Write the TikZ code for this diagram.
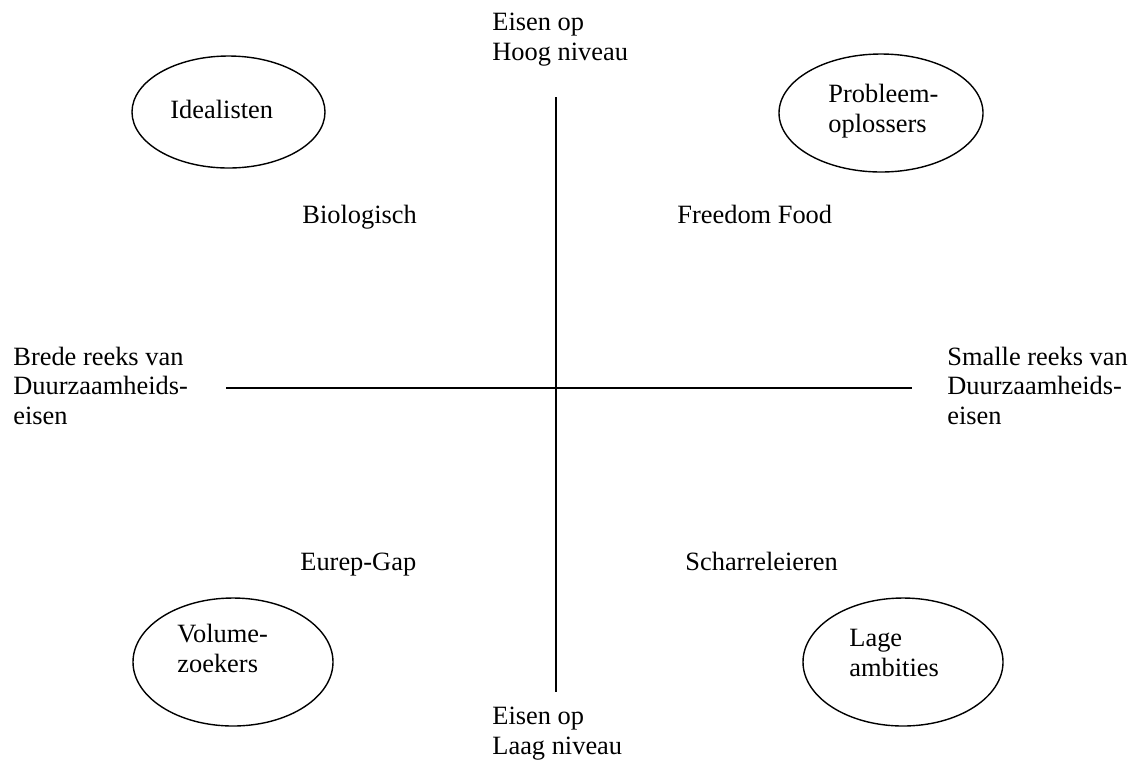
\documentclass[tikz,border=0pt]{standalone}
\usepackage{fontspec}
\setmainfont{Liberation Serif}
\usetikzlibrary{shapes.geometric}
\tikzset{
  txt/.style={anchor=base west,inner sep=0pt,align=left,
              font=\fontsize{13.2}{14.6}\selectfont},
  bubble/.style={draw,ellipse,line width=0.7pt,inner sep=0pt},
  axis/.style={line width=1pt}
}

\begin{document}
\begin{tikzpicture}[x=0.5pt,y=-0.5pt]
  \useasboundingbox (0,0) rectangle (1133,762);
  % axes
  \coordinate (top) at (556,97);
  \coordinate (bot) at (556,692);
  \coordinate (lft) at (226,388);
  \coordinate (rgt) at (912,388);
  \draw[axis] (top) -- (bot);
  \draw[axis] (lft) -- (rgt);
  % axis labels (anchored at the last line)
  \node[txt] (hoog)   at (492,60)  {Eisen op\\Hoog niveau};
  \node[txt] (laag)   at (492,754) {Eisen op\\Laag niveau};
  \node[txt] (brede)  at (13,424)  {Brede reeks van\\Duurzaamheids-\\eisen};
  \node[txt] (smalle) at (947,424) {Smalle reeks van\\Duurzaamheids-\\eisen};
  % quadrants
  \node[txt] (bio)    at (302,223) {Biologisch};
  \node[txt] (free)   at (677,223) {Freedom Food};
  \node[txt] (eurep)  at (300,570) {Eurep-Gap};
  \node[txt] (scharr) at (685,570) {Scharreleieren};
  % groups
  \node[bubble,minimum width=96.5pt,minimum height=56pt] (ideal) at (228.5,112) {};
  \node[bubble,minimum width=102pt,minimum height=59pt] (probl) at (881,113) {};
  \node[bubble,minimum width=100pt,minimum height=64pt] (volum) at (233,662) {};
  \node[bubble,minimum width=100pt,minimum height=64pt] (lage)  at (903,662) {};
  \node[txt] (idealtxt) at (170,118) {Idealisten};
  \node[txt] (probltxt) at (828,132) {Probleem-\\oplossers};
  \node[txt] (volumtxt) at (177,672) {Volume-\\zoekers};
  \node[txt] (lagetxt)  at (849,676) {Lage\\ambities};
\end{tikzpicture}
\end{document}
